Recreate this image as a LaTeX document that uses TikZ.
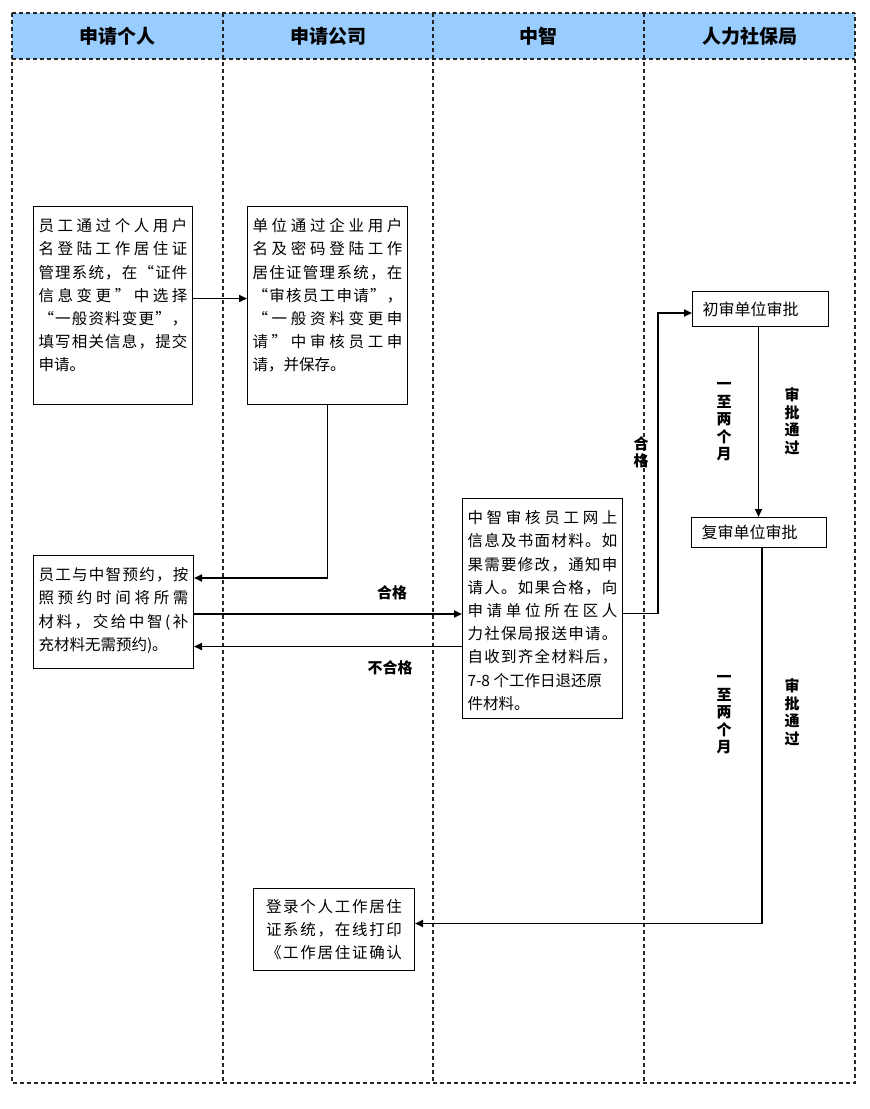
\documentclass[tikz,border=0pt]{standalone}
\usepackage{fontspec}
\setmainfont{Noto Sans CJK SC}
\usetikzlibrary{arrows.meta}
\definecolor{headblue}{RGB}{153,204,255}
\newcommand{\boxtxt}[3]{\parbox[c][#2][t]{#1}{\fontsize{15.5}{23.2}\selectfont\vspace*{6pt}#3}}
\makeatletter
\newcommand{\sline}[2][\linewidth]{\makebox[#1][s]{\spr@first#2\relax}}
\def\spr@first#1{#1\spr@rest}
\def\spr@rest#1{\ifx#1\relax\else\hfil#1\expandafter\spr@rest\fi}
\makeatother
\tikzset{
  lane/.style={draw=black!85, line width=1.1pt, dash pattern=on 4pt off 3pt},
  procbox/.style={draw=black, line width=1pt, inner xsep=5pt, inner ysep=6pt, anchor=north west, fill=white},
  arr/.style={line width=1.8pt, -{Triangle[length=8pt,width=7pt]}},
  head/.style={font=\fontsize{19}{22}\selectfont\bfseries},
  lbl/.style={font=\fontsize{15}{17}\selectfont\bfseries, inner sep=0pt},
  vlbl/.style={font=\fontsize{15}{17.5}\selectfont\bfseries, align=center, inner sep=0pt}
}
\begin{document}
\begin{tikzpicture}[x=1pt,y=-1pt]
\useasboundingbox (0,0) rectangle (870,1109);
% header
\fill[headblue] (12,13) rectangle (855,59);
\draw[lane] (12,13) -- (855,13);
\draw[lane] (12,59) -- (855,59);
\draw[lane] (12,13) -- (12,1083) -- (855,1083) -- (855,13);
\draw[lane] (223,13) -- (223,1083);
\draw[lane] (433,13) -- (433,1083);
\draw[lane] (644,13) -- (644,1083);
\node[head] (h1) at (117.5,36) {申请个人};
\node[head] (h2) at (328,36) {申请公司};
\node[head] (h3) at (538.5,36) {中智};
\node[head] (h4) at (749.5,36) {人力社保局};
% boxes
\node[procbox] (b1) at (33,206) {\boxtxt{149pt}{186pt}{\sline{员工通过个人用户}\\\sline{名登陆工作居住证}\\\sline{管理系统，在“证件}\\\sline{信息变更”中选择}\\\sline{“一般资料变更”，}\\\sline{填写相关信息，提交}\\申请。}};
\node[procbox] (b2) at (247,206) {\boxtxt{150pt}{186pt}{\sline{单位通过企业用户}\\\sline{名及密码登陆工作}\\\sline{居住证管理系统，在}\\\sline{“审核员工申请”，}\\\sline{“一般资料变更申}\\\sline{请”中审核员工申}\\请，并保存。}};
\node[procbox] (b3) at (33,555) {\boxtxt{150pt}{101pt}{\sline{员工与中智预约，按}\\\sline{照预约时间将所需}\\\sline{材料，交给中智(补}\\充材料无需预约)。}};
\node[procbox] (b4) at (462,498) {\boxtxt{150pt}{208pt}{\sline{中智审核员工网上}\\\sline{信息及书面材料。如}\\\sline{果需要修改，通知申}\\\sline{请人。如果合格，向}\\\sline{申请单位所在区人}\\\sline{力社保局报送申请。}\\\sline{自收到齐全材料后，}\\7-8 个工作日退还原\\件材料。}};
\node[procbox, minimum width=136pt, minimum height=35pt, inner xsep=10pt, align=left, font=\fontsize{16}{18}\selectfont, text width=116pt] (b5) at (692,291) {初审单位审批};
\node[procbox, minimum width=135pt, minimum height=30pt, inner xsep=10pt, align=left, font=\fontsize{16}{18}\selectfont, text width=115pt] (b6) at (691,517) {复审单位审批};
\node[procbox, minimum width=161pt, minimum height=82pt, inner xsep=4pt, align=center, font=\fontsize{15.5}{23.2}\selectfont] (b7) at (253,888) {\sline[136pt]{登录个人工作居住}\\\sline[136pt]{证系统，在线打印}\\\sline[136pt]{《工作居住证确认}};
% connectors
\draw[arr] ([yshift=7pt]b1.east) -- ([yshift=7pt]b2.west);
\draw[arr] (b2.south) |- ([yshift=34pt]b3.east);
\draw[arr] ([yshift=-2pt]b3.east) -- ([yshift=-2pt]b3.east -| b4.west);
\draw[arr] ([yshift=-38pt]b4.west) -- ([yshift=-38pt]b4.west -| b3.east);
\draw[arr] ([yshift=-5pt]b4.east) -- ++(35,0) |- ([yshift=-4pt]b5.west);
\draw[arr] ([xshift=-2pt]b5.south) -- ([xshift=-2pt]b5.south |- b6.north);
\draw[arr] ([xshift=3pt]b6.south) |- ([yshift=6pt]b7.east);
% labels
\node[lbl] (l1) at (392,593) {合格};
\node[lbl] (l2) at (390,668) {不合格};
\node[vlbl] (l3) at (641,452) {合\\格};
\node[vlbl] (l4) at (724,422) {一\\至\\两\\个\\月};
\node[vlbl] (l5) at (792,421) {审\\批\\通\\过};
\node[vlbl] (l6) at (724,715) {一\\至\\两\\个\\月};
\node[vlbl] (l7) at (792,712) {审\\批\\通\\过};
\end{tikzpicture}
\end{document}
